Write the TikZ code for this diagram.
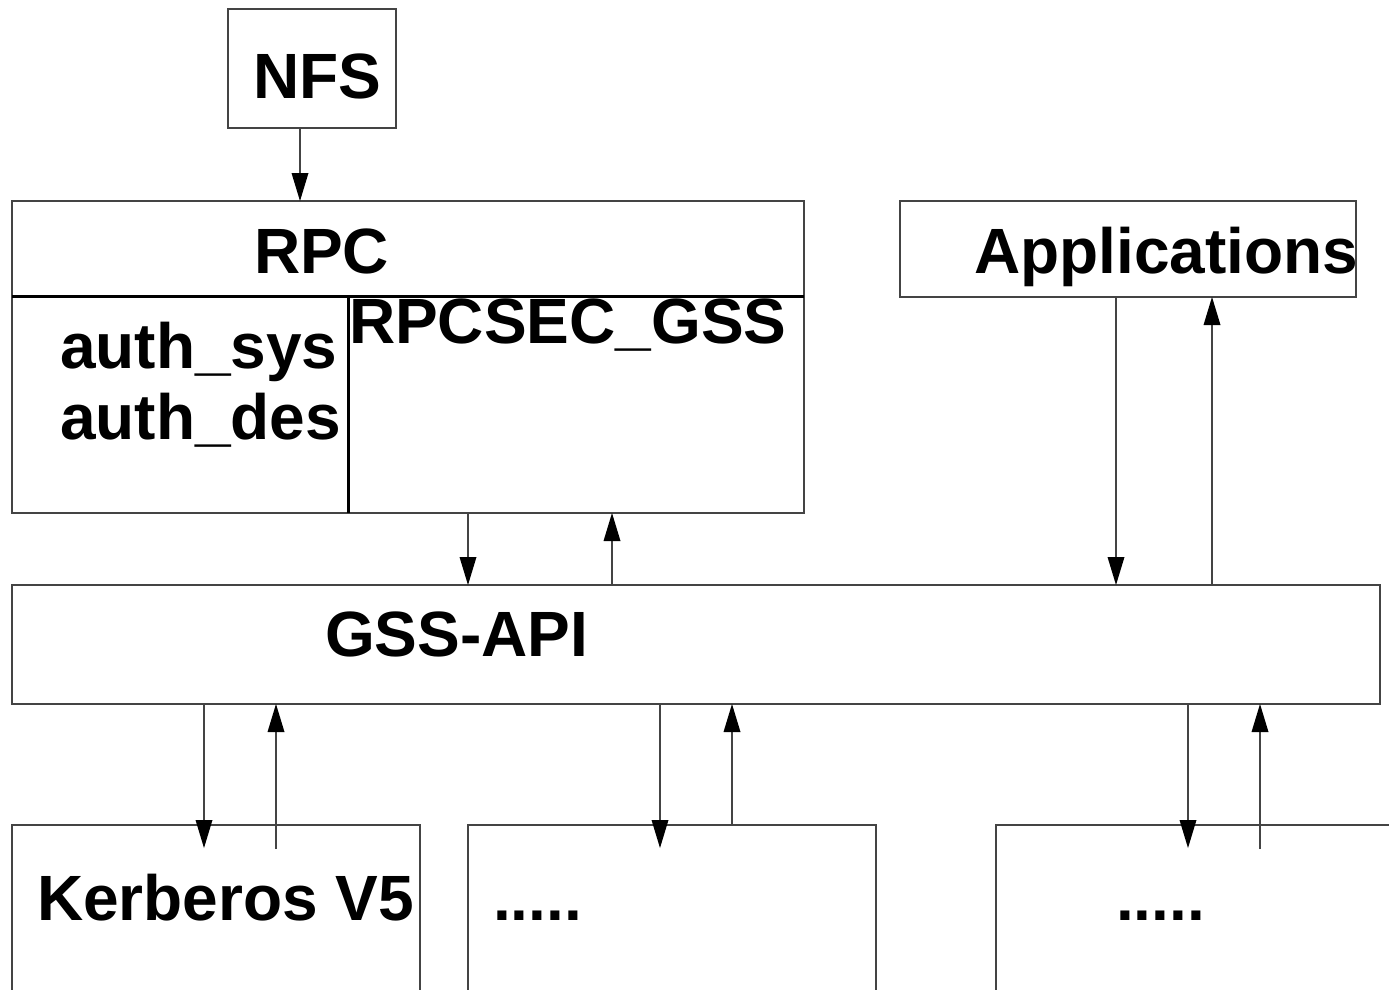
\documentclass[tikz,border=0pt]{standalone}
\usepackage{fontspec}
\setmainfont{Liberation Sans}
\usetikzlibrary{arrows.meta}
\definecolor{edge}{HTML}{444444}
\tikzset{
  box/.style={draw=edge, line width=2pt, inner sep=0pt, outer sep=0pt, anchor=north west},
  lbl/.style={inner sep=0pt, outer sep=0pt, anchor=base west, font=\fontsize{64}{70}\selectfont\bfseries},
  arr/.style={draw=edge, line width=2pt, -{Triangle[length=28pt,width=17pt,color=black,line width=0pt]}},
  divider/.style={draw=black, line width=3pt},
}
\begin{document}
\begin{tikzpicture}[x=1pt,y=-1pt]
\useasboundingbox (0,0) rectangle (1389,990);
\clip (0,0) rectangle (1389,990);
% boxes
\node[box, minimum width=168pt, minimum height=119pt] (nfs) at (228,9) {};
\node[box, minimum width=792pt, minimum height=312pt] (rpc) at (12,201) {};
\node[box, minimum width=456pt, minimum height=96pt] (apps) at (900,201) {};
\node[box, minimum width=1368pt, minimum height=119pt] (gss) at (12,585) {};
\node[box, minimum width=408pt, minimum height=200pt] (krb) at (12,825) {};
\node[box, minimum width=408pt, minimum height=200pt] (mech2) at (468,825) {};
\node[box, minimum width=408pt, minimum height=200pt] (mech3) at (996,825) {};
% RPC dividers
\coordinate (dl) at (12,296);
\coordinate (dr) at (804,296);
\coordinate (dv) at (348,296);
\draw[divider] (dl) -- (dr);
\draw[divider] (dv) -- (dv |- rpc.south);
% labels
\node[lbl] (tnfs) at (253,98) {NFS};
\node[lbl] (trpc) at (254,273) {RPC};
\node[lbl] (tsys) at (60,368) {auth\_sys};
\node[lbl] (tdes) at (60,439) {auth\_des};
\node[lbl] (tsec) at (349,343) {RPCSEC\_GSS};
\node[lbl] (tapp) at (974,273) {Applications};
\node[lbl] (tgss) at (325,656) {GSS-API};
\node[lbl] (tkrb) at (37,920) {Kerberos V5};
\node[lbl] (tdots2) at (493,920) {.....};
\node[lbl] (tdots3) at (1116,920) {.....};
% arrow columns
\coordinate (c1) at (300,0);
\coordinate (c2) at (468,0);
\coordinate (c3) at (612,0);
\coordinate (c4) at (1116,0);
\coordinate (c5) at (1212,0);
\coordinate (k1) at (204,848);
\coordinate (k2) at (276,849);
\coordinate (m1) at (660,848);
\coordinate (m2) at (732,825);
\coordinate (n1) at (1188,848);
\coordinate (n2) at (1260,849);
% arrows
\draw[arr] (nfs.south -| c1) -- (rpc.north -| c1);
\draw[arr] (rpc.south -| c2) -- (gss.north -| c2);
\draw[arr] (gss.north -| c3) -- (rpc.south -| c3);
\draw[arr] (apps.south -| c4) -- (gss.north -| c4);
\draw[arr] (gss.north -| c5) -- (apps.south -| c5);
\draw[arr] (gss.south -| k1) -- (k1);
\draw[arr] (k2) -- (gss.south -| k2);
\draw[arr] (gss.south -| m1) -- (m1);
\draw[arr] (m2) -- (gss.south -| m2);
\draw[arr] (gss.south -| n1) -- (n1);
\draw[arr] (n2) -- (gss.south -| n2);
\end{tikzpicture}
\end{document}
